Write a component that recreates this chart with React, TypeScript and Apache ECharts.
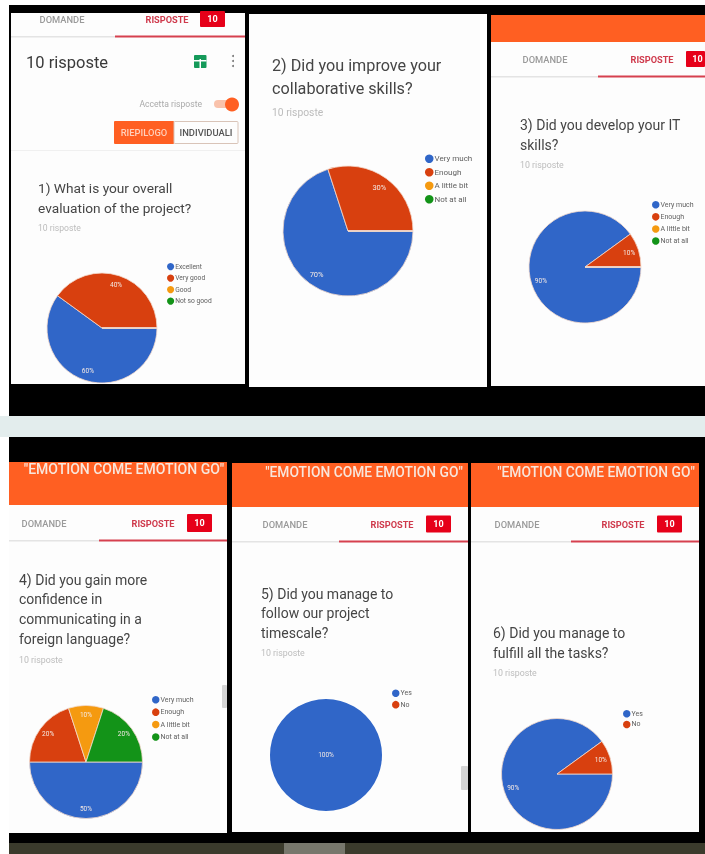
import React, { useEffect, useRef } from "react";
import * as echarts from "echarts";

const ratingNames1 = ["Excellent", "Very good", "Good", "Not so good"];
const amountNames = ["Very much", "Enough", "A little bit", "Not at all"];
const yesNoNames = ["Yes", "No"];

const values1 = [60, 40, 0, 0];
const values2 = [70, 30, 0, 0];
const values3 = [90, 10, 0, 0];
const values4 = [50, 20, 10, 20];
const values5 = [100, 0];
const values6 = [90, 10];

const titles1 = ["1) What is your overall", "evaluation of the project?"];
const titles2 = ["2) Did you improve your", "collaborative skills?"];
const titles3 = ["3) Did you develop your IT", "skills?"];
const titles4 = ["4) Did you gain more", "confidence in", "communicating in a", "foreign language?"];
const titles5 = ["5) Did you manage to", "follow our project", "timescale?"];
const titles6 = ["6) Did you manage to", "fulfill all the tasks?"];

const sliceColors = ["#3066c8", "#d8400f", "#f59a10", "#139318"];
const FONT = "Roboto";

const pies = [
  { names: ratingNames1, values: values1, cx: 102, cy: 328, r: 55, lx: 167, ly: 263, lf: 6.7, gap: 4.3, pos: "inside" },
  { names: amountNames, values: values2, cx: 348, cy: 231, r: 65, lx: 425, ly: 154.5, lf: 8, gap: 5, pos: "inside" },
  { names: amountNames, values: values3, cx: 585, cy: 267, r: 56, lx: 652, ly: 201, lf: 7, gap: 4.6, pos: "inside" },
  { names: amountNames, values: values4, cx: 86, cy: 762, r: 56.5, lx: 152, ly: 696, lf: 7, gap: 4.9, pos: "inside" },
  { names: yesNoNames, values: values5, cx: 326, cy: 755, r: 56, lx: 392, ly: 689.5, lf: 7, gap: 3.9, pos: "center" },
  { names: yesNoNames, values: values6, cx: 557, cy: 774, r: 55.5, lx: 623, ly: 710, lf: 7, gap: 3.2, pos: "inside" },
];

const rect = (x: number, y: number, w: number, h: number, fill: string, r = 0, extra: any = {}) => ({
  type: "rect",
  shape: { x, y, width: w, height: h, r },
  style: { fill, ...extra },
  silent: true,
});

const text = (
  x: number,
  y: number,
  t: string,
  size: number,
  fill: string,
  align = "left",
  weight: any = "normal",
) => ({
  type: "text",
  x,
  y,
  silent: true,
  style: {
    text: t,
    fontSize: size,
    fontFamily: FONT,
    fontWeight: weight,
    fill,
    textAlign: align,
    textVerticalAlign: "middle",
  },
});

const tabs = (
  left: number,
  right: number,
  y: number,
  dom: number,
  ris: number,
  bx: number,
  bw: number,
  bh: number,
  line: number,
  split: number,
) => [
  text(dom, y, "DOMANDE", 9.3, "#9a9a9a", "center", 500),
  text(ris, y, "RISPOSTE", 9.2, "#cf3a4c", "center", 700),
  rect(bx, y - bh / 2, bw, bh, "#e60019", 1),
  text(bx + bw / 2 + (bw < 22 ? 2 : 0), y, "10", 9, "#ffffff", "center", 700),
  rect(left, line, split - left, 1.5, "#e4e4e4"),
  rect(split, line - 0.5, right - split, 2, "#d6404f"),
];

const questionBlock = (x: number, ys: number[], lines: string[], size: number, sub: number, subSize: number) => [
  ...lines.map((l, i) => text(x, ys[i], l, size, "#454545")),
  text(x, sub, "10 risposte", subSize, "#bcbcbc"),
];

const banner = "\"EMOTION COME EMOTION GO\"";

const elements: any[] = [
  rect(9, 5, 696, 411, "#000000"),
  rect(0, 416, 705, 21, "#e3eded"),
  rect(9, 437, 696, 406, "#000000"),
  rect(9, 843, 696, 11, "#3b3b2c"),
  rect(284, 843, 61, 11, "#77776c"),

  // panel 1
  rect(11, 13, 234, 371, "#fdfdfd"),
  ...tabs(11, 245, 19, 62, 167, 200, 25, 16, 36, 115),
  text(26, 62, "10 risposte", 16.5, "#3a3a3a"),
  rect(194, 55, 12.5, 13, "#159a5a", 1),
  rect(199.5, 59, 1.5, 9, "#ffffff"),
  rect(194, 60, 12.5, 1.5, "#ffffff"),
  { type: "circle", shape: { cx: 233, cy: 56, r: 1 }, style: { fill: "#777" }, silent: true },
  { type: "circle", shape: { cx: 233, cy: 61, r: 1 }, style: { fill: "#777" }, silent: true },
  { type: "circle", shape: { cx: 233, cy: 66, r: 1 }, style: { fill: "#777" }, silent: true },
  text(202, 104, "Accetta risposte", 8.6, "#aaaaaa", "right"),
  rect(214, 100, 22, 8, "#f9c2ab", 4),
  { type: "circle", shape: { cx: 232, cy: 104.5, r: 7 }, style: { fill: "#ff5f22" }, silent: true },
  rect(114, 121, 60, 23, "#ff5f22", 1),
  rect(174, 121.5, 64, 22, "#fdfdfd", 1, { stroke: "#d9c4b8", lineWidth: 1 }),
  text(144, 132.5, "RIEPILOGO", 9.4, "#ffd0bc", "center", 500),
  text(206, 132.5, "INDIVIDUALI", 9.4, "#555555", "center", 500),
  rect(11, 150, 234, 1, "#f0f0f0"),
  ...questionBlock(38, [188, 208], titles1, 13.7, 228, 8.6),

  // panel 2
  rect(249, 14, 238, 373, "#fdfdfd"),
  ...questionBlock(272, [65, 88], titles2, 16.2, 112, 10.3),

  // panel 3
  rect(491, 15, 214, 371, "#fdfdfd"),
  rect(491, 15, 214, 27, "#ff5f22"),
  ...tabs(491, 705, 59, 545, 652, 686, 19, 16, 76, 598),
  ...questionBlock(520, [125, 145], titles3, 14, 165, 8.8),

  // panel 4
  rect(9, 462, 218, 371, "#fdfdfd"),
  rect(9, 462, 218, 43, "#ff5f22"),
  text(124, 469, banner, 14, "#f8e6dc", "center", 500),
  ...tabs(9, 227, 523, 44, 153, 187, 25, 18, 540, 99),
  ...questionBlock(19, [580, 599, 619, 639], titles4, 14, 660, 8.8),
  rect(222, 685, 5, 23, "#d4d4d4", 1),

  // panel 5
  rect(232, 463, 236, 369, "#fdfdfd"),
  rect(232, 463, 236, 44, "#ff5f22"),
  text(364, 472, banner, 13.8, "#f8e6dc", "center", 500),
  ...tabs(232, 468, 524, 285, 392, 426, 25, 17, 541, 339),
  ...questionBlock(261, [594, 613, 633], titles5, 14, 653, 8.8),
  rect(461, 766, 7, 24, "#d4d4d4", 1),

  // panel 6
  rect(471, 463, 228, 369, "#fdfdfd"),
  rect(471, 463, 228, 44, "#ff5f22"),
  text(596, 472, banner, 13.8, "#f8e6dc", "center", 500),
  ...tabs(471, 699, 524, 517, 623, 657, 25, 17, 541, 571),
  ...questionBlock(493, [633, 653], titles6, 14, 673, 8.8),
];

const option: any = {
  animation: false,
  backgroundColor: "#ffffff",
  graphic: { elements },
  legend: pies.map((p) => ({
    data: p.names,
    orient: "vertical",
    left: p.lx,
    top: p.ly,
    padding: 0,
    itemWidth: p.lf + 0.5,
    itemHeight: p.lf + 0.5,
    itemGap: p.gap,
    icon: "circle",
    selectedMode: false,
    itemStyle: { borderWidth: 0 },
    textStyle: { fontFamily: FONT, fontSize: p.lf, color: "#5f5f5f", padding: [0, 0, 0, -4] },
  })),
  series: [
    ...pies.map((p) => ({
      type: "pie",
      center: [p.cx, p.cy],
      radius: [0, p.r],
      startAngle: 0,
      clockwise: true,
      silent: true,
      label: { show: false },
      labelLine: { show: false },
      itemStyle: {
        borderColor: "#f3d9cc",
        borderWidth: p.values.filter((v) => v > 0).length > 1 ? 0.8 : 0,
      },
      data: p.names.map((name, i) => ({
        name,
        value: p.values[i],
        itemStyle: { color: sliceColors[i] },
      })),
    })),
    ...pies.map((p) => ({
      type: "pie",
      center: [p.cx, p.cy],
      radius: [p.r * 0.55, p.r],
      startAngle: 0,
      clockwise: true,
      silent: true,
      z: 3,
      itemStyle: { color: "rgba(0,0,0,0)", borderWidth: 0 },
      labelLine: { show: false },
      label: {
        show: true,
        position: p.pos,
        fontFamily: FONT,
        fontSize: p === pies[1] ? 7.5 : 6.5,
        color: "#f4e9e4",
        formatter: (q: any) => (q.value > 0 ? `${q.value}%` : ""),
      },
      data: p.names.map((name, i) => ({ name, value: p.values[i] })),
    })),
  ],
};

export default function App() {
  const ref = useRef<HTMLDivElement>(null);
  useEffect(() => {
    const chart = echarts.init(ref.current!, undefined, { renderer: "svg" });
    chart.setOption(option);
    return () => chart.dispose();
  }, []);
  return (
    <div
      ref={ref}
      style={{
        position: "fixed",
        left: 0,
        top: 0,
        width: 705,
        height: 854,
        background: "#fff",
        filter: "blur(0.45px)",
      }}
    />
  );
}
